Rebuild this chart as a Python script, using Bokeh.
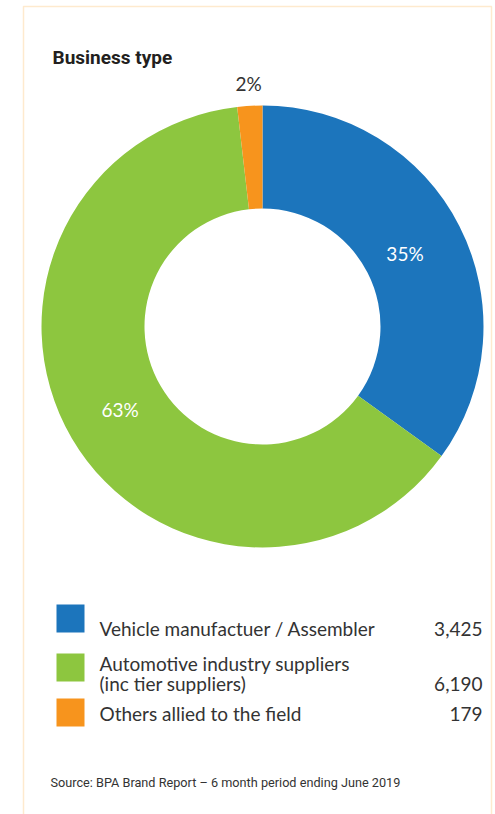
import math
from bokeh.plotting import figure
from bokeh.models import Range1d, ColumnDataSource, BoxAnnotation
from bokeh.core.properties import value
from bokeh.embed import file_html
from bokeh.resources import INLINE

# ---- data ----
categories = ["Vehicle manufactuer / Assembler",
              "Automotive industry suppliers\n(inc tier suppliers)",
              "Others allied to the field"]
counts = [3425, 6190, 179]
pct_labels = ["35%", "63%", "2%"]
colors = ["#1C75BC", "#8DC63F", "#F7941D"]
title = "Business type"
source_note = "Source: BPA Brand Report \u2013 6 month period ending June 2019"

W, H = 495, 814
def Y(py):  # pixel-from-top -> data y
    return H - py

p = figure(width=W, height=H, output_backend="svg", toolbar_location=None,
           x_range=Range1d(0, W), y_range=Range1d(0, H), min_border=0,
           tools="")
p.axis.visible = False
p.grid.visible = False
p.outline_line_color = None
p.background_fill_color = "white"
p.border_fill_color = "white"

# frame
p.add_layout(BoxAnnotation(left=23, right=491, top=Y(6), bottom=-20,
                           fill_alpha=0, line_color="#FBB85C", line_width=1.5))

# donut
cx, cy = 262, Y(326)
r_out, r_in = 221, 118
total = sum(counts)
starts, ends, mids = [], [], []
cum = 0.0
for c in counts:
    a0 = math.pi / 2 - 2 * math.pi * (cum + c) / total
    a1 = math.pi / 2 - 2 * math.pi * cum / total
    starts.append(a0); ends.append(a1); mids.append((a0 + a1) / 2)
    cum += c
src = ColumnDataSource(dict(start=starts, end=ends, color=colors))
p.annular_wedge(x=cx, y=cy, inner_radius=r_in, outer_radius=r_out,
                start_angle="start", end_angle="end", fill_color="color",
                line_color=None, source=src)

# percent labels
label_r = [160, 165, 243]
label_col = ["white", "white", "#333333"]
lx = [cx + r * math.cos(m) for r, m in zip(label_r, mids)]
ly = [cy + r * math.sin(m) for r, m in zip(label_r, mids)]
p.text(x=lx, y=ly, text=pct_labels, text_color=label_col,
       text_font=value("Lato"), text_font_size="19px",
       text_align="center", text_baseline="middle")

# title
p.text(x=[52], y=[Y(57)], text=[title], text_font=value("Roboto"),
       text_font_style="bold", text_font_size="19px", text_color="#231F20",
       text_align="left", text_baseline="middle")

# legend
sq_center = [618, 667, 712]
first_base = [628, 663, 713]
line_gap = 20
p.rect(x=[70] * 3, y=[Y(v) for v in sq_center], width=28, height=28,
       fill_color=colors, line_color=None)
tx, ty, tt = [], [], []
vy = []
for lab, b in zip(categories, first_base):
    lines = lab.split("\n")
    for i, ln in enumerate(lines):
        tx.append(99); ty.append(Y(b + i * line_gap)); tt.append(ln)
    vy.append(Y(b + (len(lines) - 1) * line_gap))
p.text(x=tx, y=ty, text=tt, text_font=value("Lato"), text_font_size="19px",
       text_color="#333333", text_align="left", text_baseline="alphabetic")
p.text(x=[482] * 3, y=vy, text=[f"{c:,}" for c in counts],
       text_font=value("Lato"), text_font_size="19px", text_color="#333333",
       text_align="right", text_baseline="alphabetic")

# source
p.text(x=[50], y=[Y(782)], text=[source_note], text_font=value("Roboto"),
       text_font_size="12.7px", text_color="#333333", text_align="left",
       text_baseline="alphabetic")

open("out.html", "w").write(file_html(p, INLINE))
